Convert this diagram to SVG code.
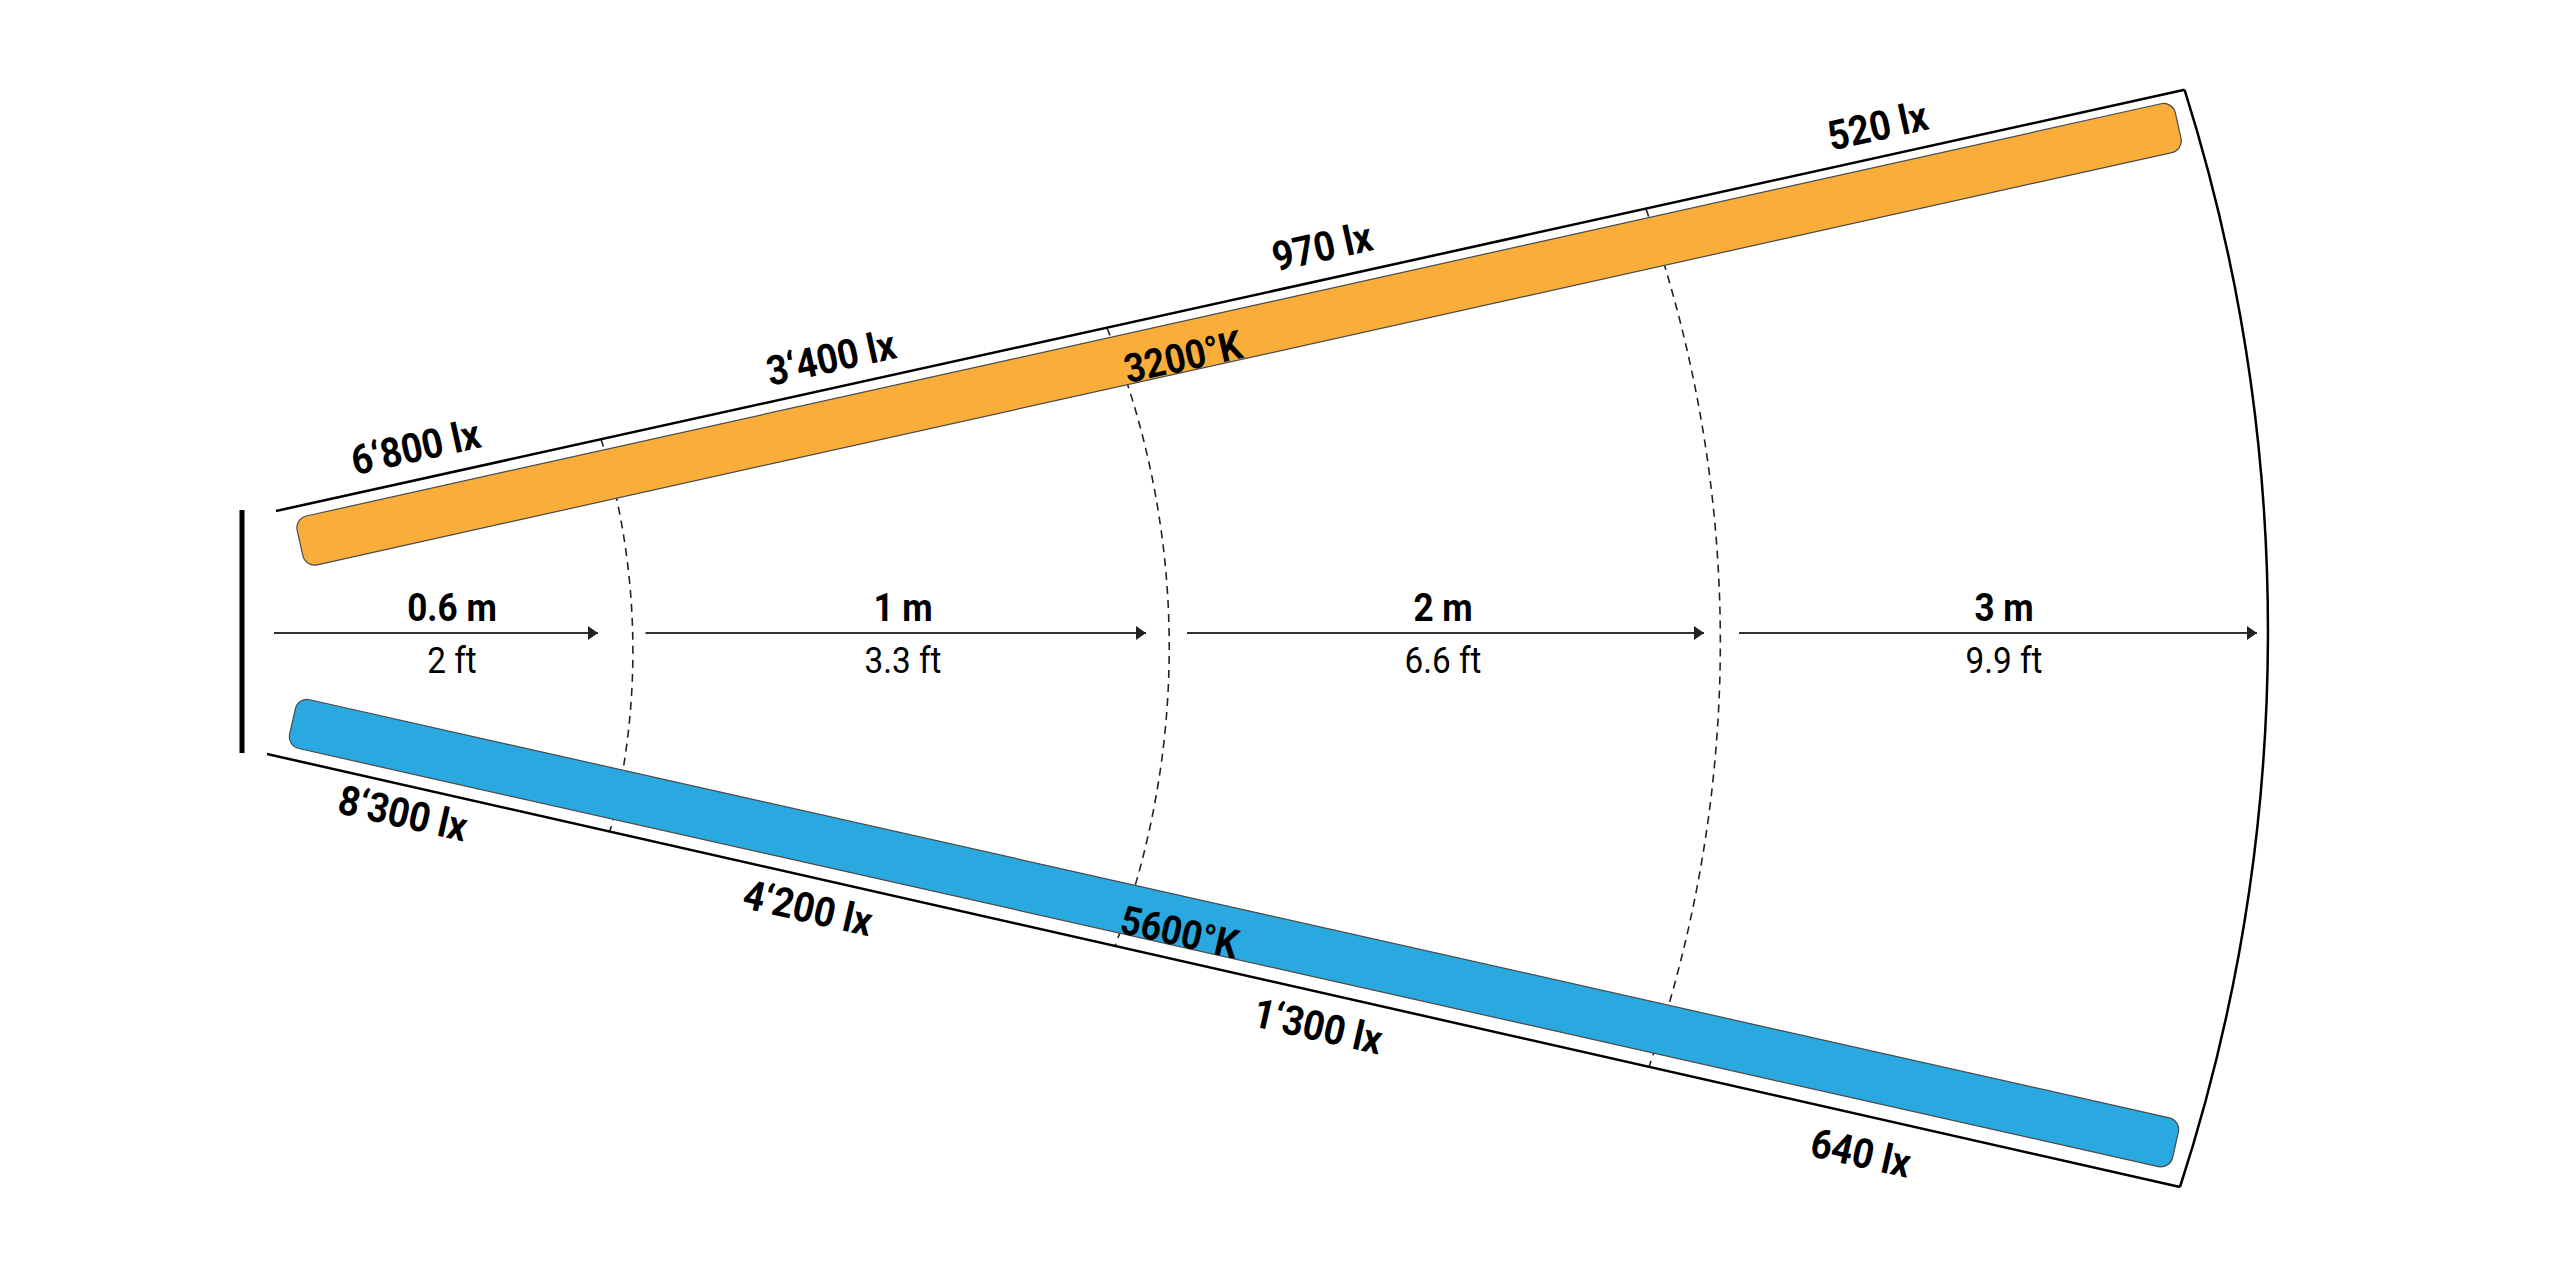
<svg xmlns="http://www.w3.org/2000/svg" width="2560" height="1280" viewBox="0 0 2560 1280">
<defs>
<marker id="ah" markerWidth="12" markerHeight="16" refX="10" refY="7" orient="auto" markerUnits="userSpaceOnUse"><path d="M0,0 L10,7 L0,14 Z" fill="#222"/></marker>
<style>
.b{font-family:Roboto,"Liberation Sans",sans-serif;font-weight:700;fill:#000;text-anchor:middle;font-size:39px}
.r{font-family:Roboto,"Liberation Sans",sans-serif;font-weight:400;fill:#000;text-anchor:middle;font-size:37px}
.lx{font-size:41px}
.k{font-size:40px}
.edge{stroke:#000;stroke-width:2.5;fill:none}
.dash{stroke:#222;stroke-width:1.6;fill:none;stroke-dasharray:8 6}
.arr{stroke:#333;stroke-width:2;fill:none;marker-end:url(#ah)}
.bar{stroke:#4a4a4a;stroke-width:1.2}
</style>
</defs>
<rect width="2560" height="1280" fill="#fff"/>

<g id="distance-arcs">
<path class="dash" d="M601,439 A720,720 0 0 1 610,831"/>
<path class="dash" d="M1107,328 A850,850 0 0 1 1115,946"/>
<path class="dash" d="M1646,209 A1300,1300 0 0 1 1649,1067"/>
</g>

<g id="source"><line x1="242" y1="510" x2="242" y2="753" stroke="#000" stroke-width="5"/></g>

<g id="beam-outline">
<line class="edge" x1="276" y1="511" x2="2184.6" y2="89.8"/>
<line class="edge" x1="267" y1="754" x2="2180" y2="1187"/>
<path class="edge" d="M2184.6,89.8 A1800,1800 0 0 1 2180,1187"/>
</g>

<g id="bar-3200K">
<rect class="bar" transform="translate(300,543) rotate(-12.53)" x="0" y="-25" width="1924" height="50" rx="12" fill="#F9AE3C"/>
<text class="b k" transform="translate(1183,356.7) rotate(-12.53) scale(0.9,1)" y="14">3200°K</text>
</g>

<g id="bar-5600K">
<rect class="bar" transform="translate(292.5,721.5) rotate(12.67)" x="0" y="-25" width="1930" height="50" rx="12" fill="#29A9E0"/>
<text class="b k" transform="translate(1179.6,932) rotate(12.67) scale(0.9,1)" y="14">5600°K</text>
</g>

<g id="connectors">
<line class="arr" x1="274" y1="633" x2="598" y2="633"/>
<line class="arr" x1="645.5" y1="633" x2="1146" y2="633"/>
<line class="arr" x1="1187" y1="633" x2="1704" y2="633"/>
<line class="arr" x1="1739" y1="633" x2="2257" y2="633"/>
</g>

<g id="distance-labels">
<text class="b" transform="translate(452,621) scale(0.9,1)">0.6 m</text>
<text class="r" transform="translate(452,673) scale(0.9,1)">2 ft</text>
<text class="b" transform="translate(903,621) scale(0.9,1)">1 m</text>
<text class="r" transform="translate(903,673) scale(0.9,1)">3.3 ft</text>
<text class="b" transform="translate(1443,621) scale(0.9,1)">2 m</text>
<text class="r" transform="translate(1443,673) scale(0.9,1)">6.6 ft</text>
<text class="b" transform="translate(2004,621) scale(0.9,1)">3 m</text>
<text class="r" transform="translate(2004,673) scale(0.9,1)">9.9 ft</text>
</g>

<g id="lux-3200K">
<text class="b lx" transform="translate(415.5,447) rotate(-12.45) scale(0.9,1)" y="14.5">6‘800 lx</text>
<text class="b lx" transform="translate(831,357.6) rotate(-12.45) scale(0.9,1)" y="14.5">3‘400 lx</text>
<text class="b lx" transform="translate(1322,246.5) rotate(-12.45) scale(0.9,1)" y="14.5">970 lx</text>
<text class="b lx" transform="translate(1877.6,125.7) rotate(-12.45) scale(0.9,1)" y="14.5">520 lx</text>
</g>

<g id="lux-5600K">
<text class="b lx" transform="translate(403,813) rotate(12.75) scale(0.9,1)" y="14.5">8‘300 lx</text>
<text class="b lx" transform="translate(808,907.8) rotate(12.75) scale(0.9,1)" y="14.5">4‘200 lx</text>
<text class="b lx" transform="translate(1318,1026) rotate(12.75) scale(0.9,1)" y="14.5">1‘300 lx</text>
<text class="b lx" transform="translate(1861,1152.7) rotate(12.75) scale(0.9,1)" y="14.5">640 lx</text>
</g>
</svg>
